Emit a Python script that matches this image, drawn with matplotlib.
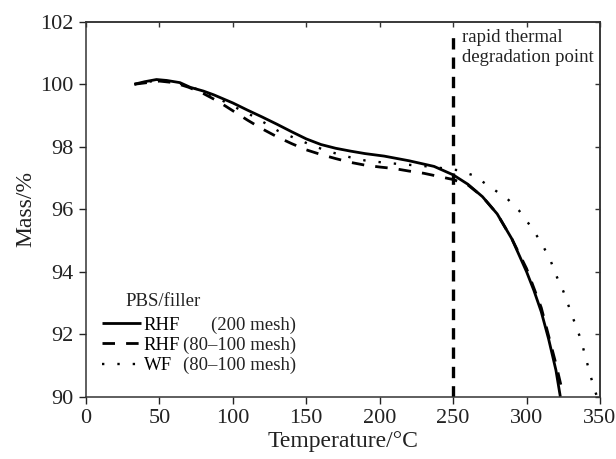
import matplotlib
matplotlib.use("Agg")
import matplotlib.pyplot as plt

plt.rcParams['font.family'] = ['Liberation Serif', 'DejaVu Serif']

# RHF (200 mesh)
rhf200_t = [33, 40, 48, 55, 64, 71, 80, 87, 100, 110, 120, 130, 140, 150, 160, 170, 180,
            190, 203, 220, 237, 250, 260, 270, 280, 290, 300, 305, 310, 315, 320, 323]
rhf200_m = [100.0, 100.08, 100.15, 100.12, 100.05, 99.9, 99.78, 99.66, 99.4, 99.17, 98.95,
            98.72, 98.48, 98.25, 98.07, 97.95, 97.86, 97.78, 97.7, 97.55, 97.37, 97.1, 96.8,
            96.4, 95.85, 95.05, 94.0, 93.4, 92.72, 91.85, 90.85, 90.0]

# RHF (80-100 mesh)
rhf80_t = [33, 50, 60, 70, 80, 90, 100, 110, 120, 130, 140, 150, 160, 170, 180, 190, 200,
           210, 220, 230, 240, 250, 260, 270, 280, 290, 300, 310, 320, 324]
rhf80_m = [100.0, 100.1, 100.05, 99.9, 99.7, 99.45, 99.15, 98.85, 98.57, 98.32, 98.1, 97.9,
           97.75, 97.62, 97.5, 97.41, 97.35, 97.3, 97.22, 97.15, 97.05, 96.95, 96.78, 96.4,
           95.85, 95.05, 94.1, 92.85, 91.05, 90.25]

# WF (80-100 mesh)
wf_t = [33, 48, 64, 75, 90, 100, 115, 131, 153, 165, 180, 190, 205, 220, 235, 253, 264, 275,
        287, 295, 303, 310, 316, 320, 325, 329, 333, 337, 340, 343, 346, 350]
wf_m = [100.0, 100.12, 100.02, 99.85, 99.55, 99.3, 98.95, 98.5, 98.06, 97.85, 97.66, 97.56,
        97.48, 97.42, 97.36, 97.25, 97.08, 96.72, 96.33, 95.95, 95.44, 94.93, 94.4, 93.9,
        93.38, 92.86, 92.34, 91.83, 91.3, 90.77, 90.26, 89.75]

degradation_t = 250
labels = ["RHF", "RHF", "WF"]
meshes = ["(200 mesh)", "(80\u2013100 mesh)", "(80\u2013100 mesh)"]
xticks = list(range(0, 351, 50))
yticks = list(range(90, 103, 2))

fig = plt.figure(figsize=(6.16, 4.59), dpi=100)
ax = fig.add_axes([0.1396, 0.1357, 0.8344, 0.817])

l1, = ax.plot(rhf200_t, rhf200_m, color='black', lw=2.0, solid_capstyle='butt')
l2, = ax.plot(rhf80_t, rhf80_m, color='black', lw=2.0, dashes=(4.5, 4.0))
l3, = ax.plot(wf_t, wf_m, color='black', lw=1.7, dashes=(1.0, 5.5))

ax.plot([degradation_t, degradation_t], [90, 101.5], color='black', lw=2.4, dashes=(3.4, 2.4))
ax.text(256, 101.78, "rapid thermal\ndegradation point", fontsize=13.5, va='top', ha='left',
        linespacing=1.25, color='#222222')

ax.set_xlim(0, 350)
ax.set_ylim(90, 102)
ax.set_xticks(xticks)
ax.set_yticks(yticks)
ax.tick_params(direction='out', length=5, width=1.0, labelsize=16, colors='#222222', pad=4)
for s in ax.spines.values():
    s.set_linewidth(1.1)
    s.set_color('#333333')

# inward ticks on the top and right spines
top = ax.secondary_xaxis('top')
top.set_xticks(xticks)
top.tick_params(direction='in', length=3.8, width=1.0, labeltop=False, colors='#333333')
right = ax.secondary_yaxis('right')
right.set_yticks(yticks)
right.tick_params(direction='in', length=3.8, width=1.0, labelright=False, colors='#333333')
for sec in (top, right):
    for s in sec.spines.values():
        s.set_linewidth(1.1)
        s.set_color('#333333')

ax.set_xlabel("Temperature/\u00b0C", fontsize=17, labelpad=2, color='#222222')
ax.set_ylabel("Mass/%", fontsize=17, labelpad=3, color='#222222')

leg = ax.legend([l1, l2, l3], labels, loc='lower left', bbox_to_anchor=(0.031, 0.06),
                frameon=False, fontsize=13.5, handlelength=2.1, handletextpad=0.12,
                labelspacing=0.17, borderpad=0, borderaxespad=0)
for txt, mesh in zip(leg.get_texts(), meshes):
    ax.annotate(mesh, xy=(0.409, 0.5), xycoords=(ax.transAxes, txt), ha='right',
                va='center', fontsize=13.5, color='#222222', zorder=10)
ax.text(0.076, 0.255, "PBS/filler", transform=ax.transAxes, fontsize=13.5,
        va='center', ha='left', color='#222222')

fig.savefig("out.png", dpi=100)
